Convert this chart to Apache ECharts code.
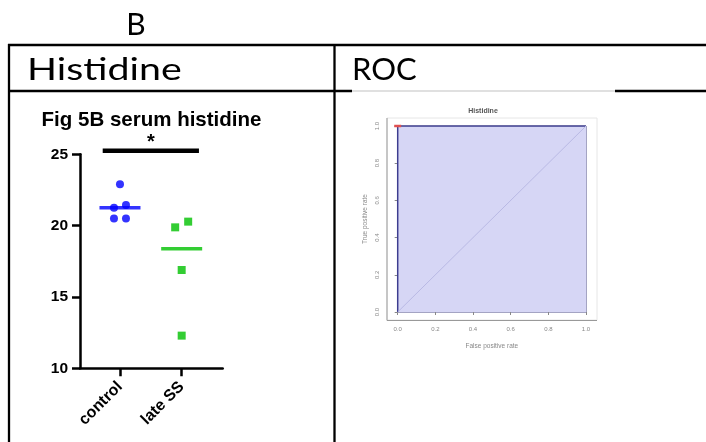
<!DOCTYPE html>
<html><head><meta charset="utf-8">
<script src="https://cdn.jsdelivr.net/npm/echarts@6/dist/echarts.min.js"></script>
<style>html,body{margin:0;padding:0;background:#fff}#c{width:706px;height:442px}</style>
</head><body><div id="c"></div>
<script>
// ---- data ----
var groups = ['control', 'late SS'];
var controlValues = [22.9, 21.25, 21.45, 20.5, 20.5];
var lateSSValues = [19.88, 20.28, 16.89, 12.29];
var yTicks = [10, 15, 20, 25];
var sigLevel = 25.25;
var sigLabel = '*';
var rocFpr = [0, 0, 1];
var rocTpr = [0, 1, 1];
var rocTicks = [0, 0.2, 0.4, 0.6, 0.8, 1.0];
var aucText = ['AUC: 1', 'CI: 1-1'];
var thresholdText = '20.9 (1, 1)';

// jitter (pixel offsets, style only)
var controlJitter = [0, -6, 6, -6, 6];
var lateJitter = [-6.5, 6.5, 0, 0];

function median(a) {
  var s = a.slice().sort(function (x, y) { return x - y; });
  var m = Math.floor(s.length / 2);
  return s.length % 2 ? s[m] : (s[m - 1] + s[m]) / 2;
}

var BLUE = '#0000ff', GREEN = '#00c000';
var chart = echarts.init(document.getElementById('c'), null, {renderer: 'canvas'});
var F = 'Liberation Sans, Arial, sans-serif';

function pts(vals, xi, jit) {
  return vals.map(function (v, i) { return {value: [xi, v], symbolOffset: [jit[i], 0]}; });
}

var graphics = [
  // table lines
  {type: 'line', shape: {x1: 8, y1: 45, x2: 706, y2: 45}, style: {stroke: '#000', lineWidth: 2.3}},
  {type: 'line', shape: {x1: 8, y1: 91, x2: 352, y2: 91}, style: {stroke: '#000', lineWidth: 2.3}},
  {type: 'line', shape: {x1: 352, y1: 91, x2: 615, y2: 91}, style: {stroke: '#999', lineWidth: 0.6}},
  {type: 'line', shape: {x1: 615, y1: 91, x2: 706, y2: 91}, style: {stroke: '#000', lineWidth: 2.3}},
  {type: 'line', shape: {x1: 9, y1: 44, x2: 9, y2: 442}, style: {stroke: '#000', lineWidth: 2.3}},
  {type: 'line', shape: {x1: 334.5, y1: 44, x2: 334.5, y2: 442}, style: {stroke: '#000', lineWidth: 2.3}},
  {type: 'text', x: 136, y: 25, style: {text: 'B', font: '30px Lato, Carlito, sans-serif', fill: '#000', align: 'center', verticalAlign: 'middle'}},
  {type: 'text', x: 27, y: 70, scaleX: 1.27, style: {text: 'Histidine', font: '31px Lato, Carlito, sans-serif', fill: '#000', align: 'left', verticalAlign: 'middle'}},
  {type: 'text', x: 352, y: 70, style: {text: 'ROC', font: '31px Lato, Carlito, sans-serif', fill: '#000', align: 'left', verticalAlign: 'middle'}},
  // left chart title
  {type: 'text', x: 151.5, y: 120, style: {text: 'Fig 5B serum histidine', font: 'bold 20.5px "Liberation Sans", Arial, sans-serif', fill: '#000', align: 'center', verticalAlign: 'middle'}},
  // ROC frame
  {type: 'rect', shape: {x: 387, y: 118, width: 210, height: 202}, style: {fill: 'none', stroke: '#e6e6e6', lineWidth: 1}},
  {type: 'polyline', shape: {points: [[387, 118], [387, 320.5], [597, 320.5]]}, style: {fill: 'none', stroke: '#999', lineWidth: 1}},
  {type: 'text', x: 483, y: 111, style: {text: 'Histidine', font: 'bold 7px "Liberation Sans", Arial, sans-serif', fill: '#555', align: 'center', verticalAlign: 'middle'}},
  {type: 'text', x: 400, y: 131, style: {text: thresholdText, font: '7px "Liberation Sans", Arial, sans-serif', fill: '#4a4a80', align: 'left', verticalAlign: 'middle'}},
  {type: 'text', x: 491, y: 223, style: {text: aucText[0], font: '7px "Liberation Sans", Arial, sans-serif', fill: '#4a4a80', align: 'left', verticalAlign: 'middle'}},
  {type: 'text', x: 491, y: 232, style: {text: aucText[1], font: '7px "Liberation Sans", Arial, sans-serif', fill: '#4a4a80', align: 'left', verticalAlign: 'middle'}}
];

var option = {
  animation: false,
  backgroundColor: '#fff',
  grid: [
    {left: 80, top: 154.3, width: 142.7, height: 214},
    {left: 397.7, top: 126, width: 188.3, height: 186, show: true, borderColor: '#4a4a88', borderWidth: 1, backgroundColor: 'transparent'}
  ],
  xAxis: [
    {gridIndex: 0, type: 'value', min: -0.648, max: 1.665,
      splitLine: {show: false},
      axisLine: {show: true, onZero: false, lineStyle: {color: '#000', width: 2.5}},
      axisTick: {show: true, customValues: [0, 1], length: 8, lineStyle: {color: '#000', width: 2.5}},
      axisLabel: {customValues: [0, 1], rotate: 45, margin: 16, color: '#000', fontFamily: F, fontWeight: 'bold', fontSize: 16,
        formatter: function (v) { return groups[Math.round(v)]; }}
    },
    {gridIndex: 1, type: 'value', min: 0, max: 1, interval: 0.2, offset: 8,
      splitLine: {show: false},
      axisLine: {show: false},
      axisTick: {show: true, length: 3, lineStyle: {color: '#888'}},
      axisLabel: {color: '#888', fontSize: 6, fontFamily: F, margin: 6, formatter: function (v) { return v.toFixed(1); }},
      name: 'False positive rate', nameLocation: 'middle', nameGap: 23,
      nameTextStyle: {color: '#888', fontSize: 6.5, fontFamily: F}
    }
  ],
  yAxis: [
    {gridIndex: 0, type: 'value', min: 10, max: 25, interval: 5,
      splitLine: {show: false},
      axisLine: {show: true, onZero: false, lineStyle: {color: '#000', width: 2.5}},
      axisTick: {show: true, length: 8, lineStyle: {color: '#000', width: 2.5}},
      axisLabel: {color: '#000', fontFamily: F, fontWeight: 'bold', fontSize: 15.5, margin: 12}
    },
    {gridIndex: 1, type: 'value', min: 0, max: 1, interval: 0.2, offset: 11,
      splitLine: {show: false},
      axisLine: {show: false},
      axisTick: {show: true, length: 3, lineStyle: {color: '#888'}},
      axisLabel: {color: '#888', fontSize: 6, fontFamily: F, rotate: 90, margin: 6, formatter: function (v) { return v.toFixed(1); }},
      name: 'True positive rate', nameLocation: 'middle', nameGap: 18,
      nameTextStyle: {color: '#888', fontSize: 6.5, fontFamily: F}
    }
  ],
  series: [
    {type: 'scatter', xAxisIndex: 0, yAxisIndex: 0, symbol: 'circle', symbolSize: 8,
      itemStyle: {color: BLUE}, data: pts(controlValues, 0, controlJitter), z: 3},
    {type: 'scatter', xAxisIndex: 0, yAxisIndex: 0, symbol: 'rect', symbolSize: 8,
      itemStyle: {color: GREEN}, data: pts(lateSSValues, 1, lateJitter), z: 3},
    {type: 'scatter', xAxisIndex: 0, yAxisIndex: 0, symbol: 'rect', symbolSize: [41, 3.5],
      data: [
        {value: [0, median(controlValues)], itemStyle: {color: BLUE}},
        {value: [1, median(lateSSValues)], itemStyle: {color: GREEN}}
      ], z: 2
    },
    // ROC panel
    {type: 'line', xAxisIndex: 1, yAxisIndex: 1, symbol: 'none',
      data: [[0, 0], [1, 1]], lineStyle: {color: '#b9b9e4', width: 1}, z: 3},
    {type: 'line', xAxisIndex: 1, yAxisIndex: 1, symbol: 'none',
      data: rocFpr.map(function (f, i) { return [f, rocTpr[i]]; }),
      lineStyle: {color: '#3d3d8f', width: 1.5},
      areaStyle: {color: '#d6d6f5', opacity: 1}, z: 2,
      markPoint: {
        symbol: 'rect', symbolSize: [7, 2.5], itemStyle: {color: '#e05050'},
        label: {show: false},
        data: [{coord: [0, 1]}]
      }
    }
  ],
  graphic: graphics
};
chart.setOption(option);

// significance bar placed through the chart's own scale
var p1 = chart.convertToPixel({gridIndex: 0}, [-0.28, sigLevel]);
var p2 = chart.convertToPixel({gridIndex: 0}, [1.28, sigLevel]);
graphics.push({type: 'line', shape: {x1: p1[0], y1: p1[1], x2: p2[0], y2: p2[1]}, style: {stroke: '#000', lineWidth: 4.5}});
graphics.push({type: 'text', x: (p1[0] + p2[0]) / 2, y: p1[1] - 8, style: {text: sigLabel, font: 'bold 20px "Liberation Sans", Arial, sans-serif', fill: '#000', align: 'center', verticalAlign: 'middle'}});
chart.setOption({graphic: graphics});
</script>
</body></html>
